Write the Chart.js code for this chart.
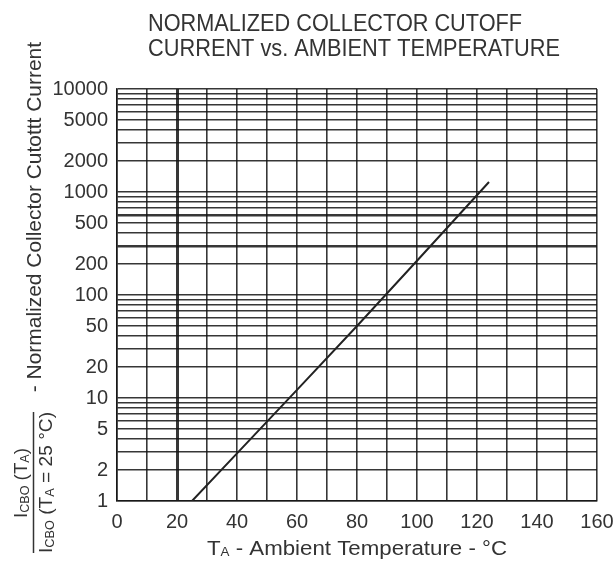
<!DOCTYPE html>
<html><head><meta charset="utf-8">
<script src="https://cdn.jsdelivr.net/npm/chart.js@4/dist/chart.umd.min.js"></script>
<style>html,body{margin:0;padding:0;background:#fff}#wrap{width:616px;height:562px}</style>
</head><body><div id="wrap"><canvas id="c" width="616" height="562"></canvas></div>
<script>
// ---- data ----
const temperatures = [25, 40, 60, 80, 100, 124];
const normalizedCurrent = [1, 2.9, 12, 50, 215, 1250];
const xTickLabels = [0, 20, 40, 60, 80, 100, 120, 140, 160];
const yTickLabels = [1, 2, 5, 10, 20, 50, 100, 200, 500, 1000, 2000, 5000, 10000];
const titleLines = ['NORMALIZED COLLECTOR CUTOFF', 'CURRENT vs. AMBIENT TEMPERATURE'];

const FONT = '"Liberation Sans", Arial, sans-serif';
const TXT = '#333';
const GRID = 'rgba(20,20,20,0.85)';

function drawRuns(ctx, runs, x, y, target) {
  let total = 0;
  runs.forEach(r => { ctx.font = r.s + 'px ' + FONT; r.w = ctx.measureText(r.t).width; total += r.w; });
  const sc = target ? Math.min(1.15, target / total) : 1;
  ctx.save();
  ctx.translate(x, y);
  ctx.scale(sc, 1);
  let cx = 0;
  runs.forEach(r => { ctx.font = r.s + 'px ' + FONT; ctx.fillText(r.t, cx, r.dy || 0); cx += r.w; });
  ctx.restore();
}

const textPlugin = {
  id: 'texts',
  afterDraw(chart) {
    const ctx = chart.ctx;
    ctx.save();
    ctx.fillStyle = TXT;
    ctx.textAlign = 'left';
    ctx.textBaseline = 'alphabetic';
    // title
    drawRuns(ctx, [{t: titleLines[0], s: 23}], 148, 31, 374);
    drawRuns(ctx, [{t: titleLines[1], s: 23}], 148, 56, 412);
    // x axis title
    drawRuns(ctx, [{t: 'T', s: 20}, {t: 'A', s: 12, dy: 1}, {t: ' - Ambient Temperature - °C', s: 20}], 207, 555, 300);
    // y axis title (rotated)
    const rot = (bx, by, runs, len) => {
      ctx.save(); ctx.translate(bx, by); ctx.rotate(-Math.PI / 2);
      drawRuns(ctx, runs, 0, 0, len); ctx.restore();
    };
    rot(27, 518, [{t: 'I', s: 18}, {t: 'CBO', s: 12, dy: 2}, {t: ' (T', s: 18}, {t: 'A', s: 12, dy: 2}, {t: ')', s: 18}], 70);
    rot(52, 553, [{t: 'I', s: 18}, {t: 'CBO', s: 12, dy: 2}, {t: ' (T', s: 18}, {t: 'A', s: 12, dy: 2}, {t: ' = 25 °C)', s: 18}], 141);
    rot(41, 398, [{t: ' - Normalized Collector Cutottt Current', s: 21}], 356);
    // fraction bar
    ctx.strokeStyle = TXT; ctx.lineWidth = 1.5;
    ctx.beginPath(); ctx.moveTo(33.5, 553); ctx.lineTo(33.5, 412); ctx.stroke();
    ctx.restore();
  }
};

const yGridValues = [];
for (let d = 0; d < 4; d++) for (let k = 1; k <= 9; k++) yGridValues.push(k * Math.pow(10, d));
yGridValues.push(10000);

new Chart(document.getElementById('c'), {
  type: 'scatter',
  data: {
    datasets: [{
      data: temperatures.map((t, i) => ({x: t, y: normalizedCurrent[i]})),
      showLine: true,
      borderColor: '#222',
      borderWidth: 2,
      pointRadius: 0,
      tension: 0
    }]
  },
  options: {
    responsive: false,
    animation: false,
    devicePixelRatio: 1,
    layout: {padding: {top: 89, right: 19, left: 0, bottom: 0}},
    plugins: {legend: {display: false}, tooltip: {enabled: false}, title: {display: false}},
    scales: {
      x: {
        type: 'linear', min: 0, max: 160,
        afterFit(s) { s.height = 61; s.paddingRight = 0; s.paddingLeft = 0; },
        ticks: {
          stepSize: 10, autoSkip: false, maxRotation: 0, padding: 9,
          color: TXT, font: {family: FONT, size: 20},
          callback: v => xTickLabels.includes(v) ? String(v) : ''
        },
        grid: {
          color: GRID, drawTicks: false,
          lineWidth: c => (c.tick && c.tick.value === 20) ? 3 : 1.6
        },
        border: {display: true, color: GRID, width: 1.6}
      },
      y: {
        type: 'logarithmic', min: 1, max: 10000,
        afterFit(s) { s.width = 117; s.paddingTop = 0; s.paddingBottom = 0; },
        afterBuildTicks(s) { s.ticks = yGridValues.map(v => ({value: v})); },
        ticks: {
          autoSkip: false, padding: 9,
          color: TXT, font: {family: FONT, size: 20},
          callback: v => yTickLabels.includes(v) ? String(v) : ''
        },
        grid: {
          color: GRID, drawTicks: false,
          lineWidth: c => (c.tick && (c.tick.value === 300 || c.tick.value === 600)) ? 2.6 : 1.6
        },
        border: {display: true, color: GRID, width: 1.6}
      }
    }
  },
  plugins: [textPlugin]
});
</script>
</body></html>
